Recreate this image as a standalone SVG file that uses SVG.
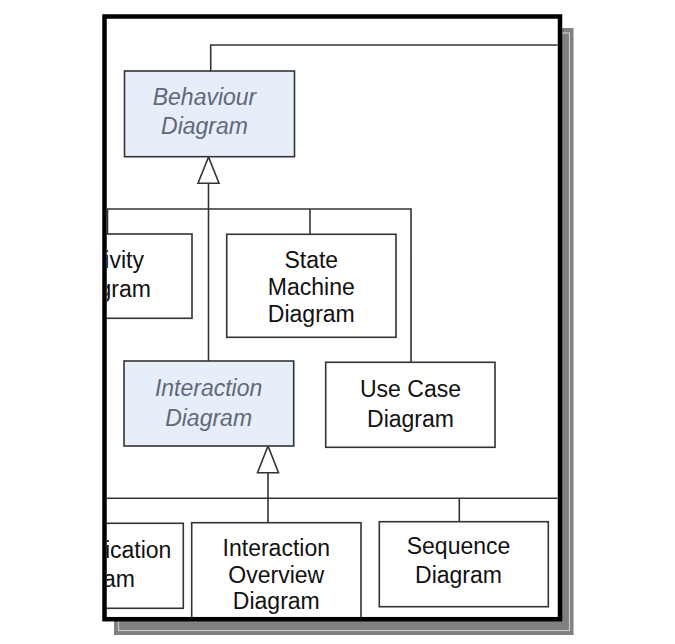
<svg xmlns="http://www.w3.org/2000/svg" width="675" height="644" viewBox="0 0 675 644">
<defs>
<clipPath id="frameClip"><rect x="106.7" y="18.7" width="451" height="598.3"/></clipPath>
</defs>
<style>
.box{fill:#ffffff;stroke:#333333;stroke-width:1.6}
.abs{fill:#e6eefa;stroke:#333333;stroke-width:1.6}
.t{font-family:"Liberation Sans",Arial,sans-serif;font-size:23px;fill:#111111;text-anchor:middle}
.ti{font-family:"Liberation Sans",Arial,sans-serif;font-size:23px;font-style:italic;fill:#626878;text-anchor:middle}
.ln{fill:none;stroke:#333333;stroke-width:1.6}
.head{fill:#ffffff;stroke:#333333;stroke-width:1.6}
</style>
<rect width="675" height="644" fill="#ffffff"/>
<g id="shadow">
<rect x="114" y="28" width="459.5" height="607" fill="#808080"/>
<rect x="118.5" y="33" width="451" height="597.5" fill="none" stroke="#c8c8c8" stroke-width="1.2"/>
</g>
<rect x="104.5" y="16.5" width="455.5" height="602.7" fill="#ffffff"/>
<g clip-path="url(#frameClip)">
<g id="connectors">
<path class="ln" d="M210.7,71 V45 H600"/>
<path class="ln" d="M208.5,183.3 V361"/>
<path class="ln" d="M0,209 H411 V362.3"/>
<path class="ln" d="M310,209 V234.3"/>
<path class="ln" d="M107.5,209 V234"/>
<path class="ln" d="M268,472.7 V522.7"/>
<path class="ln" d="M0,498.3 H600"/>
<path class="ln" d="M459.3,498.3 V521.7"/>
<polygon class="head" points="208.5,157 198,183.3 219,183.3"/>
<polygon class="head" points="268,446 257.5,472.7 278.5,472.7"/>
</g>
<g id="behaviour">
<rect class="abs" x="124.5" y="71" width="170" height="85.7"/>
<text class="ti" x="204.5" y="105">Behaviour</text>
<text class="ti" x="204.5" y="134">Diagram</text>
</g>
<g id="activity">
<rect class="box" x="22" y="234" width="170" height="84.3"/>
<text class="t" x="107.5" y="268.3">Activity</text>
<text class="t" x="107.5" y="296.7">Diagram</text>
</g>
<g id="statemachine">
<rect class="box" x="226.7" y="234.3" width="169.3" height="103"/>
<text class="t" x="311.3" y="267.7">State</text>
<text class="t" x="311.3" y="294.7">Machine</text>
<text class="t" x="311.3" y="321.7">Diagram</text>
</g>
<g id="interaction">
<rect class="abs" x="124" y="361" width="169.7" height="85"/>
<text class="ti" x="208.6" y="396">Interaction</text>
<text class="ti" x="208.6" y="426">Diagram</text>
</g>
<g id="usecase">
<rect class="box" x="325.7" y="362.3" width="169.3" height="85"/>
<text class="t" x="410.5" y="396.7">Use Case</text>
<text class="t" x="410.5" y="426.7">Diagram</text>
</g>
<g id="communication">
<rect class="box" x="13" y="523.3" width="170.3" height="85"/>
<text class="t" x="91.5" y="558.3">Communication</text>
<text class="t" x="91.5" y="586.7">Diagram</text>
</g>
<g id="interactionoverview">
<rect class="box" x="191.7" y="522.7" width="169.3" height="110"/>
<text class="t" x="276.3" y="556">Interaction</text>
<text class="t" x="276.3" y="582.7">Overview</text>
<text class="t" x="276.3" y="609.3">Diagram</text>
</g>
<g id="sequence">
<rect class="box" x="379.3" y="521.7" width="169" height="85"/>
<text class="t" x="458.5" y="554">Sequence</text>
<text class="t" x="458.5" y="583.3">Diagram</text>
</g>
</g>
<rect id="frame" x="104.5" y="16.5" width="455.5" height="602.7" fill="none" stroke="#000000" stroke-width="4.5"/>
</svg>
